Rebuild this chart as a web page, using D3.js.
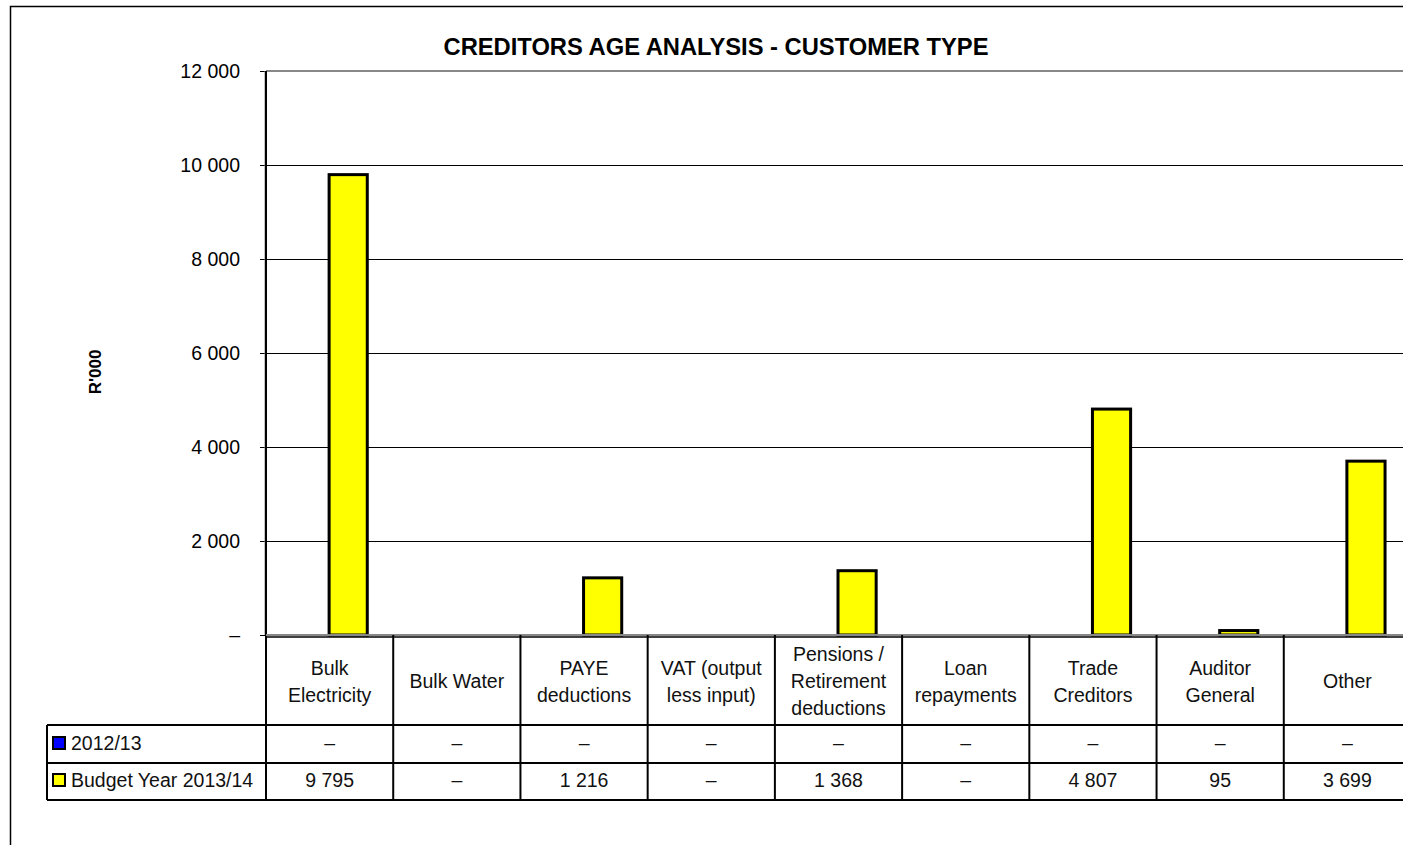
<!DOCTYPE html>
<html>
<head>
<meta charset="utf-8">
<script src="https://cdn.jsdelivr.net/npm/d3@7"></script>
<style>
  html, body { margin: 0; padding: 0; background: #fff; }
  svg { display: block; font-family: "Liberation Sans", Arial, sans-serif; }
</style>
</head>
<body>
<svg id="chart" width="1403" height="845"></svg>
<script>
// ---- data ----
const categories = [
  ["Bulk", "Electricity"],
  ["Bulk Water"],
  ["PAYE", "deductions"],
  ["VAT (output", "less input)"],
  ["Pensions /", "Retirement", "deductions"],
  ["Loan", "repayments"],
  ["Trade", "Creditors"],
  ["Auditor", "General"],
  ["Other"]
];
const seriesNames = ["2012/13", "Budget Year 2013/14"];
const values2012 = [0, 0, 0, 0, 0, 0, 0, 0, 0];
const valuesBudget = [9795, 0, 1216, 0, 1368, 0, 4807, 95, 3699];
const yTicks = [0, 2000, 4000, 6000, 8000, 10000, 12000];
const seriesColors = ["#0000ff", "#ffff00"];
const titleText = "CREDITORS AGE ANALYSIS  - CUSTOMER TYPE";
const yLabel = "R'000";

const series = [values2012, valuesBudget];

// ---- layout ----
const svg = d3.select("#chart");
const pL = 266, pR = 1411, pT = 71, pB = 635;
const rowH = [725, 763, 800]; // table row bottoms
const legendLeft = 47;

const x = d3.scaleBand().domain(d3.range(categories.length)).range([pL, pR]).padding(0);
const x1 = d3.scaleBand().domain(d3.range(series.length))
  .range([x.bandwidth() * 0.2, x.bandwidth() * 0.8]).padding(0);
const y = d3.scaleLinear().domain([0, 12000]).range([pB, pT]);

const fmt = v => v === 0 ? "–" : d3.format(",")(v).replace(/,/g, " ");

// outer border
svg.append("rect").attr("x", 10.5).attr("y", 6.5).attr("width", 1420).attr("height", 860)
  .attr("fill", "none").attr("stroke", "#000").attr("stroke-width", 1.5);

// title
svg.append("text").attr("x", 716).attr("y", 55).attr("text-anchor", "middle")
  .attr("font-size", 23).attr("font-weight", "bold")
  .attr("textLength", 545).attr("lengthAdjust", "spacingAndGlyphs")
  .text(titleText);

// gridlines
svg.append("g").selectAll("line").data(yTicks.filter(t => t > 0 && t < 12000)).join("line")
  .attr("x1", pL).attr("x2", pR).attr("y1", d => y(d) + 0.5).attr("y2", d => y(d) + 0.5)
  .attr("stroke", "#000").attr("stroke-width", 1).attr("shape-rendering", "crispEdges");
// plot area top border (gray)
svg.append("line").attr("x1", pL).attr("x2", pR).attr("y1", y(12000)).attr("y2", y(12000))
  .attr("stroke", "#888").attr("stroke-width", 2);

// y axis
const yAxis = d3.axisLeft(y).tickValues(yTicks).tickSize(6).tickPadding(20)
  .tickFormat(d => d === 0 ? "–" : fmt(d));
const yg = svg.append("g").attr("transform", `translate(${pL},0)`).call(yAxis);
yg.select(".domain").remove();
yg.selectAll("line").attr("stroke", "#000").attr("stroke-width", 1).attr("shape-rendering", "crispEdges");
yg.selectAll("text").attr("font-size", 19.5).attr("fill", "#000")
  .attr("font-family", "'Liberation Sans', Arial, sans-serif");
svg.append("line").attr("x1", pL - 1).attr("x2", pL - 1).attr("y1", pT).attr("y2", pB)
  .attr("stroke", "#888").attr("stroke-width", 1);
svg.append("line").attr("x1", pL).attr("x2", pL).attr("y1", pT).attr("y2", rowH[2])
  .attr("stroke", "#000").attr("stroke-width", 2);

// y label
svg.append("text").attr("transform", "translate(101,372) rotate(-90)")
  .attr("text-anchor", "middle").attr("font-size", 17).attr("font-weight", "bold").text(yLabel);

// bars
const gBars = svg.append("g");
series.forEach((vals, si) => {
  gBars.selectAll(null).data(vals.map((v, i) => ({ v, i })).filter(d => d.v > 0)).join("rect")
    .attr("x", d => x(d.i) + x1(si) - 0.5)
    .attr("width", x1.bandwidth())
    .attr("y", d => y(d.v))
    .attr("height", d => pB - y(d.v))
    .attr("fill", seriesColors[si]).attr("stroke", "#000").attr("stroke-width", 3);
});

// zero baseline (gray)
svg.append("line").attr("x1", pL).attr("x2", pR).attr("y1", pB).attr("y2", pB)
  .attr("stroke", "#888").attr("stroke-width", 2);

// ---- data table ----
const gt = svg.append("g");
gt.append("line").attr("x1", pL).attr("x2", pR).attr("y1", pB + 2).attr("y2", pB + 2)
  .attr("stroke", "#000").attr("stroke-width", 1.5);
rowH.forEach(yy => {
  gt.append("line").attr("x1", legendLeft).attr("x2", pR).attr("y1", yy).attr("y2", yy)
    .attr("stroke", "#000").attr("stroke-width", 2);
});
gt.append("line").attr("x1", legendLeft).attr("x2", legendLeft).attr("y1", rowH[0]).attr("y2", rowH[2])
  .attr("stroke", "#000").attr("stroke-width", 2);
gt.selectAll(null).data(d3.range(1, categories.length + 1)).join("line")
  .attr("x1", d => pL + d * x.bandwidth()).attr("x2", d => pL + d * x.bandwidth())
  .attr("y1", pB).attr("y2", rowH[2])
  .attr("stroke", "#000").attr("stroke-width", 2);

// category header labels
const lineH = 27;
categories.forEach((lines, i) => {
  const cx = x(i) + x.bandwidth() / 2;
  const midBaseline = 688;
  const t = gt.append("text").attr("text-anchor", "middle").attr("font-size", 19.5).attr("fill", "#111");
  lines.forEach((ln, k) => {
    t.append("tspan").attr("x", cx)
      .attr("y", midBaseline + (k - (lines.length - 1) / 2) * lineH)
      .text(ln);
  });
});

// legend cells and values
const rowBase = [750, 787];
series.forEach((vals, si) => {
  gt.append("rect").attr("x", 53).attr("y", rowBase[si] - 13).attr("width", 12).attr("height", 12)
    .attr("fill", seriesColors[si]).attr("stroke", "#000").attr("stroke-width", 2);
  gt.append("text").attr("x", 71).attr("y", rowBase[si]).attr("font-size", 19.5).attr("fill", "#111")
    .text(seriesNames[si]);
  gt.selectAll(null).data(vals).join("text")
    .attr("x", (d, i) => x(i) + x.bandwidth() / 2)
    .attr("y", rowBase[si])
    .attr("text-anchor", "middle").attr("font-size", 19.5).attr("fill", "#111")
    .text(d => fmt(d));
});
</script>
</body>
</html>
